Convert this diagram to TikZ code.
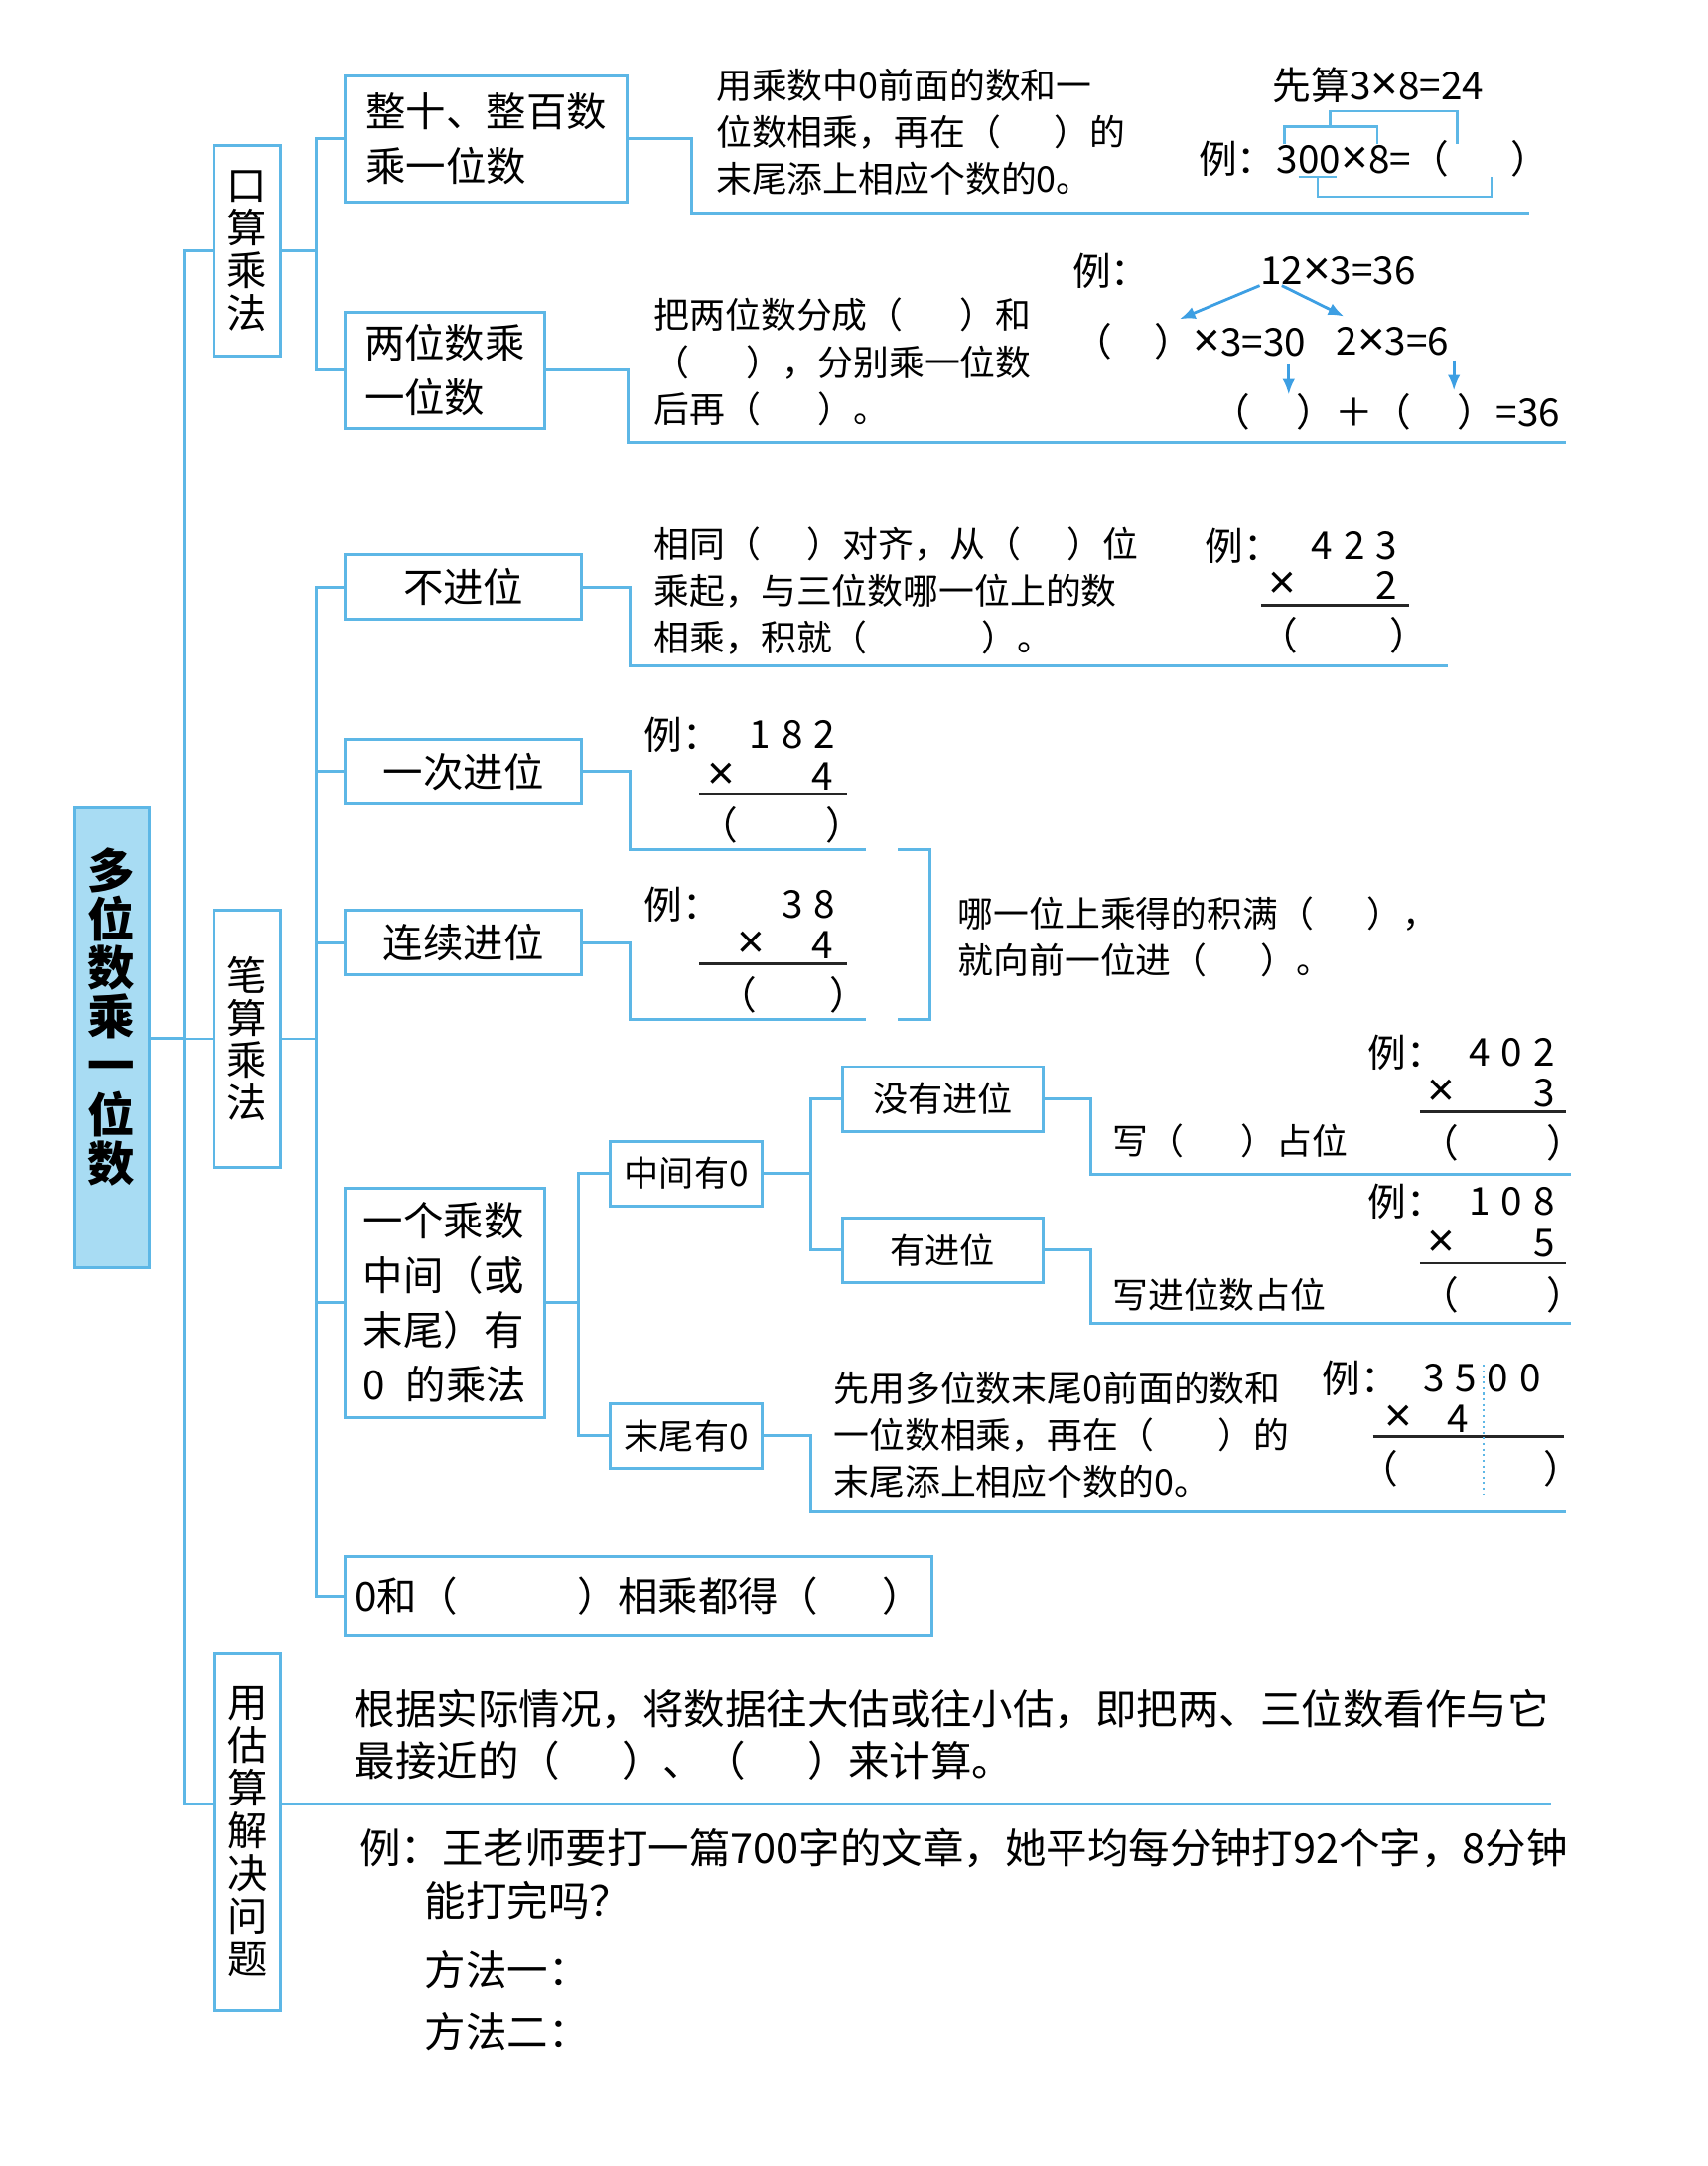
\documentclass[tikz,border=0pt]{standalone}
\usepackage{fontspec}
\setmainfont{Noto Sans CJK SC}
\newfontfamily\latinf{Liberation Sans}
\usetikzlibrary{arrows.meta, calc, positioning}
\newcommand{\upx}{0.3957pt}
\newcommand{\bk}[1]{（\hspace{#1}）}
\newcommand{\dg}{\hspace{0.28em}}
\newcommand{\tms}{{\latinf\fontsize{13.5}{13}\selectfont ×}}
\definecolor{mapblue}{HTML}{5DB7E6}
\definecolor{mapfill}{HTML}{A8DCF3}
\definecolor{arrblue}{HTML}{3D9FE3}
\tikzset{
  % --- Kasten ---------------------------------------------
  rootbox/.style={draw=mapblue, fill=mapfill, line width=0.85pt,
    minimum width=21.37pt, minimum height=131.77pt, inner sep=0pt},
  roottxt/.style={inner sep=0pt, align=center,
    font=\fontsize{13.5}{14}\selectfont\bfseries},
  vbox/.style={draw=mapblue, fill=white, line width=0.85pt,
    minimum width=18.99pt, inner sep=0pt, align=center,
    font=\fontsize{11.5}{12.2}\selectfont},
  tbox/.style={draw=mapblue, fill=white, line width=0.85pt,
    inner sep=0pt, align=left, font=\fontsize{11.5}{15.6}\selectfont},
  sbox/.style={draw=mapblue, fill=white, line width=0.85pt,
    minimum width=67.66pt, minimum height=18.5pt, inner sep=0pt,
    align=center, font=\fontsize{11.5}{13}\selectfont},
  sboxs/.style={sbox, font=\fontsize{10}{12}\selectfont},
  % --- Texte ----------------------------------------------
  txt/.style={anchor=west, align=left, inner sep=0pt,
    font=\fontsize{10.2}{13.4}\selectfont},
  bigtxt/.style={anchor=west, align=left, inner sep=0pt,
    font=\fontsize{11.8}{15}\selectfont},
  ex/.style={inner sep=0pt, font=\fontsize{11}{13}\selectfont},
  % --- Linien ---------------------------------------------
  link/.style={draw=mapblue, line width=0.85pt},
  brk/.style={draw=mapblue, line width=0.7pt},
  sumrule/.style={draw=black!85, line width=0.8pt},
  arrb/.style={draw=arrblue, line width=0.8pt,
    -{Latex[length=4.5pt, width=3.6pt]}}
}
\begin{document}
\begin{tikzpicture}[x=\upx, y=-\upx]
  \useasboundingbox (0,0) rectangle (1236,1568);

  % --- Stamm ------------------------------------------------
  \node[rootbox] (root) at (81,751.5) {};
  \node[roottxt] (rootlbl) at (81,736) {多\\位\\数\\乘\\一\\位\\数};
  \node[vbox, minimum height=60.54pt] (kousuan) at (179,181.5) {口\\算\\乘\\法};
  \node[vbox, minimum height=73.6pt] (bisuan) at (179,752) {笔\\算\\乘\\法};
  \node[vbox, minimum width=18.6pt, minimum height=102.49pt] (gusuan) at (179.5,1326)
    {用\\估\\算\\解\\决\\问\\题};
  \coordinate (gline) at (1123,1306);

  \draw[link] (root.east) -- ++(24,0) |- (kousuan.west);
  \draw[link] (root.east) -- ++(24,0) |- (bisuan.west);
  \draw[link] (root.east) -- ++(24,0) |- (gusuan.west |- gline);
  \draw[link] (gusuan.east |- gline) -- (gline);

  % --- Kousuan ----------------------------------------------
  \node[tbox, minimum width=80.72pt, minimum height=36.01pt] (zhengshi) at (352,100.5)
    {整十、整百数\\乘一位数};
  \node[tbox, minimum width=56.98pt, minimum height=33.24pt] (liangwei) at (322,268)
    {两位数乘\\一位数};
  \coordinate (u1) at (1107,154);
  \coordinate (u2) at (1134,320);
  \draw[link] (kousuan.east) -- ++(25,0) |- (zhengshi.west);
  \draw[link] (kousuan.east) -- ++(25,0) |- (liangwei.west);
  \draw[link] (zhengshi.east) -- ++(46,0) |- (u1);
  \draw[link] (liangwei.east) -- ++(60,0) |- (u2);

  \node[txt] (t1) at (518,95.5) {用乘数中0前面的数和一\\位数相乘，再在\bk{1.5em}的\\末尾添上相应个数的0。};
  \node[ex, anchor=west] (pre1) at (921,62) {先算3\tms8=24};
  \node[ex, anchor=east] (li1) at (924,115) {例：};
  \node[ex, anchor=west] (eq1) at (li1.east) {300\tms8=\bk{1.6em}};
  \draw[brk] (930,104) |- (997,91.5) -- (997,104);
  \draw[brk] (963,91.5) |- (1055,80.5) -- (1055,104);
  \draw[brk] (940,128) -- (968,128);
  \draw[brk] (954,128) |- (1080,142.5) -- (1080,128);

  \node[txt] (t2) at (473,262) {把两位数分成\bk{1.6em}和\\\bk{1.6em}，分别乘一位数\\后再\bk{1.6em}。};
  \node[ex, anchor=west] (li2) at (776,196) {例：};
  \node[ex, anchor=west] (n12) at (912,196) {12\tms3=36};
  \node[ex, anchor=east] (p30) at (946,247) {\bk{1.1em}\tms3=30};
  \node[ex, anchor=west] (p6) at (967,247) {2\tms3=6};
  \node[ex, anchor=east] (p36) at (1130,298) {\bk{1.2em}＋\bk{1.2em}=36};
  \coordinate (a1) at (854,231);
  \coordinate (a2) at (973,229);
  \draw[arrb] (n12.south west) -- (a1);
  \draw[arrb] ($(n12.south west)+(16,0)$) -- (a2);
  \draw[arrb] ($(p30.south east)+(-13,3)$) -- ++(0,22);
  \draw[arrb] ($(p6.south east)+(3,3)$) -- ++(0,22);

  % --- Bisuan -----------------------------------------------
  \node[sbox] (bujin) at (335.5,425) {不进位};
  \node[sbox] (yici) at (335.5,558.5) {一次进位};
  \node[sbox] (lianxu) at (335.5,682.5) {连续进位};
  \node[tbox, minimum width=56.98pt, minimum height=65.69pt] (youling) at (322,943)
    {一个乘数\\中间（或\\末尾）有\\0\hspace{0.5em}的乘法};
  \node[sbox, minimum width=168.17pt, minimum height=22.55pt] (lingbox) at (462.5,1155.5)
    {0和\bk{3em}相乘都得\bk{1.6em}};
  \foreach \k in {bujin, yici, lianxu, youling, lingbox}
    \draw[link] (bisuan.east) -- ++(25,0) |- (\k.west);

  \coordinate (u3) at (1048,482);
  \coordinate (u4) at (627,615);
  \coordinate (u5) at (627,738);
  \draw[link] (bujin.east) -- ++(34,0) |- (u3);
  \draw[link] (yici.east) -- ++(34,0) |- (u4);
  \draw[link] (lianxu.east) -- ++(34,0) |- (u5);
  \coordinate (b1) at (650,615);
  \coordinate (b2) at (650,738);
  \draw[link] (b1) -- ++(23,0) |- (b2);

  \node[txt] (t3) at (473,428) {相同\bk{1.3em}对齐，从\bk{1.3em}位\\乘起，与三位数哪一位上的数\\相乘，积就\bk{3.2em}。};
  \node[ex, anchor=west] (li3) at (872,395) {例：};
  \node[ex, anchor=east] (a423) at (1012,395) {4\dg2\dg3};
  \node[ex, anchor=west] (x423) at (918,424) {\tms};
  \node[ex, anchor=east] (b423) at (1012,424) {2};
  \draw[sumrule] (913,438) -- (1020,438);
  \node[ex] (r423) at (973,460) {\bk{2.4em}};

  \node[ex, anchor=west] (li4) at (466,532) {例：};
  \node[ex, anchor=east] (a182) at (605,532) {1\dg8\dg2};
  \node[ex, anchor=west] (x182) at (512,562) {\tms};
  \node[ex, anchor=east] (b182) at (604,562) {4};
  \draw[sumrule] (506,575) -- (613,575);
  \node[ex] (r182) at (566,597) {\bk{2.3em}};

  \node[ex, anchor=west] (li5) at (466,655) {例：};
  \node[ex, anchor=east] (a38) at (605,655) {3\dg8};
  \node[ex, anchor=west] (x38) at (533,684) {\tms};
  \node[ex, anchor=east] (b38) at (604,684) {4};
  \draw[sumrule] (506,698) -- (613,698);
  \node[ex] (r38) at (574,720) {\bk{1.9em}};

  \node[txt] (t4) at (693,678) {哪一位上乘得的积满\bk{1.5em}，\\就向前一位进\bk{1.5em}。};

  % --- Ling -------------------------------------------------
  \node[sboxs, minimum width=43.53pt] (zhongjian) at (497,849.5) {中间有0};
  \node[sboxs, minimum width=43.53pt] (mowei) at (497,1039.5) {末尾有0};
  \node[sboxs, minimum width=57.38pt] (meiyou) at (682.5,795.5) {没有进位};
  \node[sboxs, minimum width=57.38pt] (youjin) at (682.5,905) {有进位};
  \draw[link] (youling.east) -- ++(24,0) |- (zhongjian.west);
  \draw[link] (youling.east) -- ++(24,0) |- (mowei.west);
  \draw[link] (zhongjian.east) -- ++(34,0) |- (meiyou.west);
  \draw[link] (zhongjian.east) -- ++(34,0) |- (youjin.west);
  \coordinate (u6) at (1137,850);
  \coordinate (u7) at (1137,958);
  \coordinate (u8) at (1134,1094);
  \draw[link] (meiyou.east) -- ++(34,0) |- (u6);
  \draw[link] (youjin.east) -- ++(34,0) |- (u7);
  \draw[link] (mowei.east) -- ++(34,0) |- (u8);

  \node[txt] (t5) at (805,826) {写\bk{1.6em}占位};
  \node[ex, anchor=west] (li6) at (990,762) {例：};
  \node[ex, anchor=east] (a402) at (1126,762) {4\dg0\dg2};
  \node[ex, anchor=west] (x402) at (1033,791) {\tms};
  \node[ex, anchor=east] (b402) at (1126,791) {3};
  \draw[sumrule] (1028,805) -- (1134,805);
  \node[ex] (r402) at (1088,827) {\bk{2.3em}};

  \node[txt] (t6) at (805,937) {写进位数占位};
  \node[ex, anchor=west] (li7) at (990,870) {例：};
  \node[ex, anchor=east] (a108) at (1126,870) {1\dg0\dg8};
  \node[ex, anchor=west] (x108) at (1033,900) {\tms};
  \node[ex, anchor=east] (b108) at (1126,900) {5};
  \draw[sumrule] (1028,914.5) -- (1134,914.5);
  \node[ex] (r108) at (1088,937) {\bk{2.3em}};

  \node[txt] (t7) at (603,1039) {先用多位数末尾0前面的数和\\一位数相乘，再在\bk{1.8em}的\\末尾添上相应个数的0。};
  \node[ex, anchor=west] (li8) at (957,998) {例：};
  \node[ex, anchor=east] (a3500) at (1116,998) {3\dg5\dg0\dg0};
  \node[ex, anchor=west] (x3500) at (1002,1027) {\tms};
  \node[ex, anchor=east] (b3500) at (1064,1027) {4};
  \draw[sumrule] (994,1040) -- (1132,1040);
  \node[ex] (r3500) at (1065,1063) {\bk{3.8em}};
  \draw[mapblue, densely dotted, line width=0.6pt] (1074,988) -- (1074,1082);

  % --- Gusuan -----------------------------------------------
  \node[bigtxt] (t8) at (256,1256) {根据实际情况，将数据往大估或往小估，即把两、三位数看作与它\\最接近的\bk{1.5em}、\bk{1.5em}来计算。};
  \node[bigtxt] (q1) at (260,1338) {例：王老师要打一篇700字的文章，她平均每分钟打92个字，8分钟};
  \node[bigtxt] (q2) at (307,1376) {能打完吗？};
  \node[bigtxt] (m1) at (307,1426) {方法一：};
  \node[bigtxt] (m2) at (307,1471) {方法二：};

\end{tikzpicture}
\end{document}
